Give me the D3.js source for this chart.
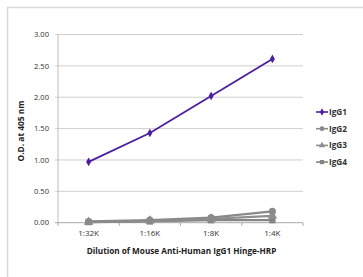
<!DOCTYPE html>
<html>
<head>
<meta charset="utf-8">
<script src="https://cdn.jsdelivr.net/npm/d3@7"></script>
<style>
body { margin: 0; background: #fff; }
text { font-family: "Open Sans", "Liberation Sans", sans-serif; }
</style>
</head>
<body>
<div id="chart"></div>
<script>
// dilutions along the x axis
var dilutions = ["1:32K", "1:16K", "1:8K", "1:4K"]
var seriesNames = ["IgG1", "IgG2", "IgG3", "IgG4"]
var igg1 = [0.97, 1.43, 2.02, 2.61]
var igg2 = [0.02, 0.04, 0.08, 0.18]
var igg3 = [0.01, 0.03, 0.06, 0.11]
var igg4 = [0.01, 0.02, 0.04, 0.04]
var yTicks = [0, 0.5, 1, 1.5, 2, 2.5, 3]

var colors = ["#4b1fa0", "#8a8a8a", "#8f8f8f", "#858585"]
var symbols = [d3.symbolDiamond, d3.symbolCircle, d3.symbolTriangle, d3.symbolSquare]
var series = [igg1, igg2, igg3, igg4]

var width = 363, height = 277
var plotLeft = 58, plotRight = 303, plotTop = 34.5, plotBottom = 222.7

var svg = d3.select("#chart").append("svg")
	.attr("width", width)
	.attr("height", height)

// outer frame
svg.append("path")
	.attr("d", "M7.5," + height + "V7.5H" + width)
	.attr("fill", "none")
	.attr("stroke", "#d9d9d9")
	.attr("stroke-width", 1.5)

var x = d3.scalePoint().domain(dilutions).range([plotLeft, plotRight]).padding(0.5)
var y = d3.scaleLinear().domain([0, 3]).range([plotBottom, plotTop])

// grid
svg.append("g")
	.selectAll("line")
	.data(yTicks)
	.enter().append("line")
	.attr("x1", plotLeft - 3)
	.attr("x2", plotRight)
	.attr("y1", function(d) { return y(d) })
	.attr("y2", function(d) { return y(d) })
	.attr("stroke", function(d) { return d == 0 ? "#a8a8a8" : "#cfcfcf" })
	.attr("stroke-width", 1)

svg.append("line")
	.attr("x1", plotLeft).attr("x2", plotLeft)
	.attr("y1", plotTop).attr("y2", plotBottom)
	.attr("stroke", "#bdbdbd")

// x ticks at category boundaries
var step = x.step()
svg.append("g")
	.selectAll("line")
	.data(d3.range(dilutions.length + 1))
	.enter().append("line")
	.attr("x1", function(i) { return plotLeft + i * step })
	.attr("x2", function(i) { return plotLeft + i * step })
	.attr("y1", plotBottom)
	.attr("y2", plotBottom + 3)
	.attr("stroke", "#a8a8a8")

svg.append("g")
	.selectAll("text")
	.data(yTicks)
	.enter().append("text")
	.attr("x", 49)
	.attr("y", function(d) { return y(d) + 2.7 })
	.attr("text-anchor", "end")
	.attr("font-size", 7.6)
	.attr("fill", "#333")
	.text(function(d) { return d3.format(".2f")(d) })

svg.append("g")
	.selectAll("text")
	.data(dilutions)
	.enter().append("text")
	.attr("x", function(d) { return x(d) })
	.attr("y", plotBottom + 13)
	.attr("text-anchor", "middle")
	.attr("font-size", 8)
	.attr("fill", "#333")
	.text(function(d) { return d })

svg.append("text")
	.attr("x", (plotLeft + plotRight) / 2 + 1)
	.attr("y", plotBottom + 31)
	.attr("text-anchor", "middle")
	.attr("font-size", 8.2)
	.attr("font-weight", "bold")
	.attr("fill", "#222")
	.text("Dilution of Mouse Anti-Human IgG1 Hinge-HRP")

svg.append("text")
	.attr("transform", "translate(24,131) rotate(-90)")
	.attr("text-anchor", "middle")
	.attr("font-size", 8.4)
	.attr("font-weight", "bold")
	.attr("fill", "#222")
	.text("O.D. at 405 nm")

// lines, grey first so purple sits on top
var line = d3.line()
	.x(function(d, i) { return x(dilutions[i]) })
	.y(function(d) { return y(d) })

var order = [3, 2, 1, 0]
order.forEach(function(s) {
	var g = svg.append("g")
	g.append("path")
		.attr("d", line(series[s]))
		.attr("fill", "none")
		.attr("stroke", colors[s])
		.attr("stroke-width", s == 0 ? 1.8 : 2.2)
	g.selectAll("path.pt")
		.data(series[s])
		.enter().append("path")
		.attr("class", "pt")
		.attr("transform", function(d, i) { return "translate(" + x(dilutions[i]) + "," + y(d) + ")" })
		.attr("d", d3.symbol().type(symbols[s]).size(s == 0 ? 22 : 40))
		.attr("fill", colors[s])
})

// legend
var legend = svg.append("g")
	.selectAll("g")
	.data(seriesNames)
	.enter().append("g")
	.attr("transform", function(d, i) { return "translate(316," + (112 + i * 16.7) + ")" })

legend.append("line")
	.attr("x1", 0).attr("x2", 12)
	.attr("stroke", function(d, i) { return colors[i] })
	.attr("stroke-width", 1.6)
legend.append("path")
	.attr("transform", "translate(6,0)")
	.attr("d", function(d, i) { return d3.symbol().type(symbols[i]).size(i == 0 ? 16 : 18)() })
	.attr("fill", function(d, i) { return colors[i] })
legend.append("text")
	.attr("x", 13)
	.attr("y", 3)
	.attr("font-size", 8.2)
	.attr("font-weight", "bold")
	.attr("fill", "#333")
	.text(function(d) { return d })
</script>
</body>
</html>
